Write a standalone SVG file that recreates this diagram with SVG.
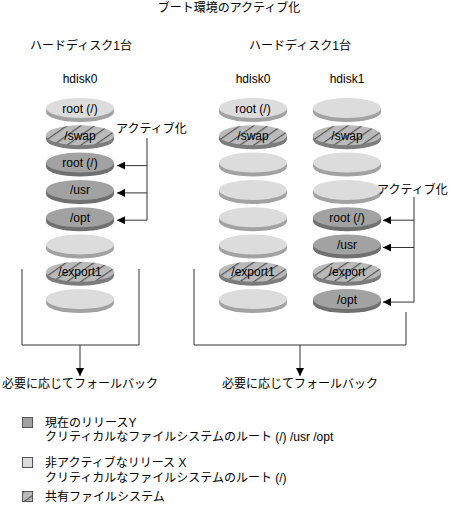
<svg xmlns="http://www.w3.org/2000/svg" xmlns:xlink="http://www.w3.org/1999/xlink" width="455" height="505" viewBox="0 0 455 505">
<style>
text{font-family:"Liberation Sans","Noto Sans CJK JP",sans-serif;font-size:12px;fill:#000}
.c{text-anchor:middle}
.ln{stroke:#333;stroke-width:1;fill:none}
.lf{fill:#dcdcdc}.lr{fill:#a2a2a2}
.df{fill:#a2a2a2}.dr{fill:#707070}
.hf{fill:url(#hatch)}.hr{fill:#7c7c7c}
</style>
<defs>
<pattern id="hatch" width="8" height="8" patternUnits="userSpaceOnUse" patternTransform="rotate(55)">
<rect width="8" height="8" fill="#bababa"/>
<line x1="0.6" y1="0" x2="0.6" y2="8" stroke="#555" stroke-width="1.2"/>
</pattern>
<marker id="ah" viewBox="0 0 10 10" refX="10" refY="5" markerWidth="8" markerHeight="8" markerUnits="userSpaceOnUse" orient="auto">
<path d="M0,0 L10,5 L0,10 Z" fill="#000"/>
</marker>
<g id="L"><ellipse cx="0" cy="4" rx="34" ry="10" class="lr"/><rect x="-34" y="0" width="68" height="4" class="lr"/><ellipse cx="0" cy="0" rx="34" ry="10" class="lf"/></g>
<g id="D"><ellipse cx="0" cy="4" rx="34" ry="10" class="dr"/><rect x="-34" y="0" width="68" height="4" class="dr"/><ellipse cx="0" cy="0" rx="34" ry="10" class="df"/></g>
<g id="H"><ellipse cx="0" cy="4" rx="34" ry="10" class="hr"/><rect x="-34" y="0" width="68" height="4" class="hr"/><ellipse cx="0" cy="0" rx="34" ry="10" class="hf"/></g>
</defs>

<g id="title"><text x="229" y="12" class="c">ブート環境のアクティブ化</text></g>
<g id="heading-left"><text x="81" y="50" class="c">ハードディスク1台</text></g>
<g id="heading-right"><text x="300" y="50" class="c">ハードディスク1台</text></g>
<g id="label-hdisk0-left"><text x="80" y="83" class="c">hdisk0</text></g>
<g id="label-hdisk0-right"><text x="253" y="83" class="c">hdisk0</text></g>
<g id="label-hdisk1"><text x="347" y="83" class="c">hdisk1</text></g>

<!-- left hdisk0 -->
<g id="l0"><use xlink:href="#L" x="80" y="108"/><text x="80" y="112.5" class="c">root (/)</text></g>
<g id="l1"><use xlink:href="#H" x="80" y="135.3"/><text x="80" y="139.8" class="c">/swap</text></g>
<g id="l2"><use xlink:href="#D" x="80" y="162.6"/><text x="80" y="167.1" class="c">root (/)</text></g>
<g id="l3"><use xlink:href="#D" x="80" y="189.9"/><text x="80" y="194.4" class="c">/usr</text></g>
<g id="l4"><use xlink:href="#D" x="80" y="217.2"/><text x="80" y="221.7" class="c">/opt</text></g>
<g id="l5"><use xlink:href="#L" x="80" y="244.5"/></g>
<g id="l6"><use xlink:href="#H" x="80" y="271.8"/><text x="80" y="276.3" class="c">/export1</text></g>
<g id="l7"><use xlink:href="#L" x="80" y="299.1"/></g>

<!-- right hdisk0 -->
<g id="r0"><use xlink:href="#L" x="253" y="108"/><text x="253" y="112.5" class="c">root (/)</text></g>
<g id="r1"><use xlink:href="#H" x="253" y="135.3"/><text x="253" y="139.8" class="c">/swap</text></g>
<g id="r2"><use xlink:href="#L" x="253" y="162.6"/></g>
<g id="r3"><use xlink:href="#L" x="253" y="189.9"/></g>
<g id="r4"><use xlink:href="#L" x="253" y="217.2"/></g>
<g id="r5"><use xlink:href="#L" x="253" y="244.5"/></g>
<g id="r6"><use xlink:href="#H" x="253" y="271.8"/><text x="253" y="276.3" class="c">/export1</text></g>
<g id="r7"><use xlink:href="#L" x="253" y="299.1"/></g>

<!-- right hdisk1 -->
<g id="s0"><use xlink:href="#L" x="347" y="108"/></g>
<g id="s1"><use xlink:href="#H" x="347" y="135.3"/><text x="347" y="139.8" class="c">/swap</text></g>
<g id="s2"><use xlink:href="#L" x="347" y="162.6"/></g>
<g id="s3"><use xlink:href="#L" x="347" y="189.9"/></g>
<g id="s4"><use xlink:href="#D" x="347" y="217.2"/><text x="347" y="221.7" class="c">root (/)</text></g>
<g id="s5"><use xlink:href="#D" x="347" y="244.5"/><text x="347" y="249" class="c">/usr</text></g>
<g id="s6"><use xlink:href="#H" x="347" y="271.8"/><text x="347" y="276.3" class="c">/export</text></g>
<g id="s7"><use xlink:href="#D" x="347" y="299.1"/><text x="347" y="303.6" class="c">/opt</text></g>

<g id="label-activate-left"><text x="116" y="133">アクティブ化</text></g>
<g id="label-activate-right"><text x="377" y="194">アクティブ化</text></g>
<g id="label-fallback-left"><text x="80" y="388" class="c">必要に応じてフォールバック</text></g>
<g id="label-fallback-right"><text x="300" y="388" class="c">必要に応じてフォールバック</text></g>

<g id="connectors">
<path class="ln" d="M147,138 V220.2"/>
<path class="ln" d="M147,165.6 H117" marker-end="url(#ah)"/>
<path class="ln" d="M147,192.9 H117" marker-end="url(#ah)"/>
<path class="ln" d="M147,220.2 H117" marker-end="url(#ah)"/>
<path class="ln" d="M414,197 V302.1"/>
<path class="ln" d="M414,220.2 H383" marker-end="url(#ah)"/>
<path class="ln" d="M414,247.5 H383" marker-end="url(#ah)"/>
<path class="ln" d="M414,302.1 H383" marker-end="url(#ah)"/>
<path class="ln" d="M22,269 V345 H139 V269"/>
<path class="ln" d="M80,345 V376" marker-end="url(#ah)"/>
<path class="ln" d="M194,269 V345 H406 V312"/>
<path class="ln" d="M300,345 V376" marker-end="url(#ah)"/>
</g>

<g id="legend">
<rect x="22.5" y="417.5" width="10" height="10" fill="#a2a2a2" stroke="#555"/>
<text x="45" y="427">現在のリリースY</text>
<text x="45" y="441">クリティカルなファイルシステムのルート (/) /usr /opt</text>
<rect x="22.5" y="457.5" width="10" height="10" fill="#dcdcdc" stroke="#555"/>
<text x="45" y="467">非アクティブなリリース X</text>
<text x="45" y="482">クリティカルなファイルシステムのルート (/)</text>
<rect x="22.5" y="491.5" width="10" height="10" fill="url(#hatch)" stroke="#555"/>
<text x="45" y="501">共有ファイルシステム</text>
</g>
</svg>
